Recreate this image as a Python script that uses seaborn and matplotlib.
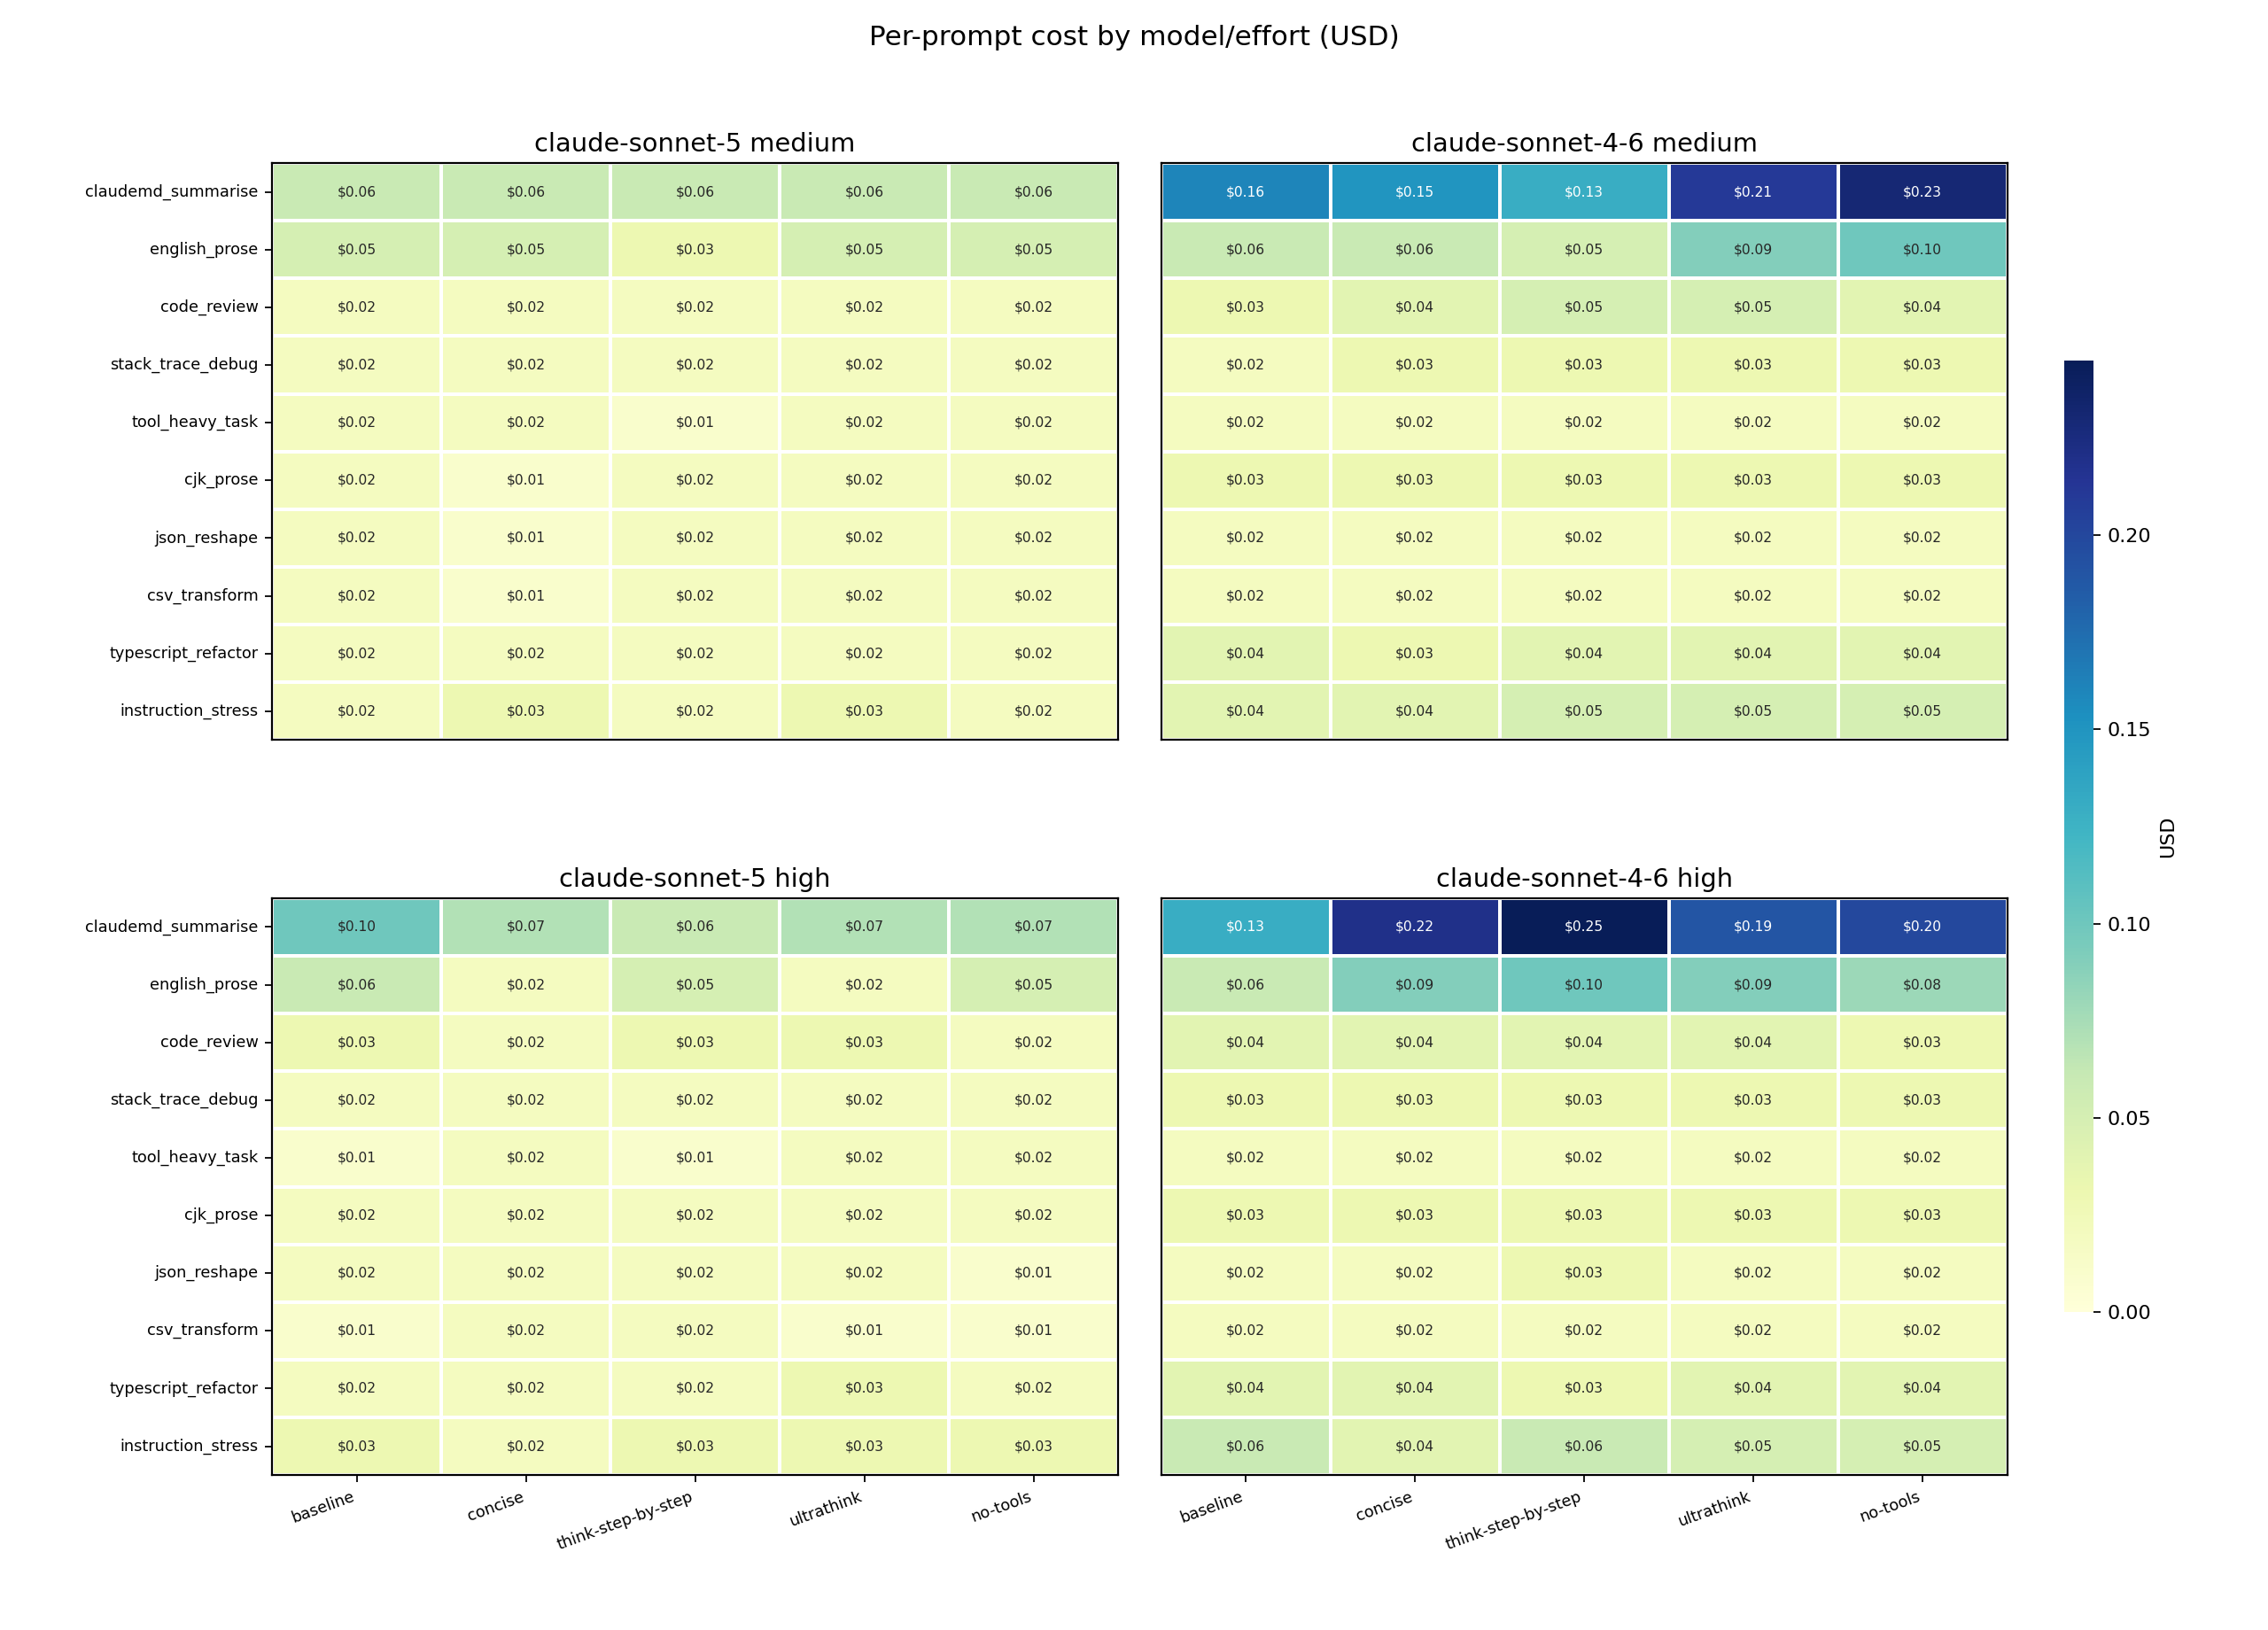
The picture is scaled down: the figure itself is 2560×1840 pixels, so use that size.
import numpy as np
import pandas as pd
import matplotlib
matplotlib.use("Agg")
import matplotlib.pyplot as plt
import seaborn as sns

prompts = ["claudemd_summarise", "english_prose", "code_review", "stack_trace_debug",
           "tool_heavy_task", "cjk_prose", "json_reshape", "csv_transform",
           "typescript_refactor", "instruction_stress"]
variants = ["baseline", "concise", "think-step-by-step", "ultrathink", "no-tools"]

sonnet5_medium = [
    [0.06, 0.06, 0.06, 0.06, 0.06],
    [0.05, 0.05, 0.03, 0.05, 0.05],
    [0.02, 0.02, 0.02, 0.02, 0.02],
    [0.02, 0.02, 0.02, 0.02, 0.02],
    [0.02, 0.02, 0.01, 0.02, 0.02],
    [0.02, 0.01, 0.02, 0.02, 0.02],
    [0.02, 0.01, 0.02, 0.02, 0.02],
    [0.02, 0.01, 0.02, 0.02, 0.02],
    [0.02, 0.02, 0.02, 0.02, 0.02],
    [0.02, 0.03, 0.02, 0.03, 0.02],
]
sonnet46_medium = [
    [0.16, 0.15, 0.13, 0.21, 0.23],
    [0.06, 0.06, 0.05, 0.09, 0.10],
    [0.03, 0.04, 0.05, 0.05, 0.04],
    [0.02, 0.03, 0.03, 0.03, 0.03],
    [0.02, 0.02, 0.02, 0.02, 0.02],
    [0.03, 0.03, 0.03, 0.03, 0.03],
    [0.02, 0.02, 0.02, 0.02, 0.02],
    [0.02, 0.02, 0.02, 0.02, 0.02],
    [0.04, 0.03, 0.04, 0.04, 0.04],
    [0.04, 0.04, 0.05, 0.05, 0.05],
]
sonnet5_high = [
    [0.10, 0.07, 0.06, 0.07, 0.07],
    [0.06, 0.02, 0.05, 0.02, 0.05],
    [0.03, 0.02, 0.03, 0.03, 0.02],
    [0.02, 0.02, 0.02, 0.02, 0.02],
    [0.01, 0.02, 0.01, 0.02, 0.02],
    [0.02, 0.02, 0.02, 0.02, 0.02],
    [0.02, 0.02, 0.02, 0.02, 0.01],
    [0.01, 0.02, 0.02, 0.01, 0.01],
    [0.02, 0.02, 0.02, 0.03, 0.02],
    [0.03, 0.02, 0.03, 0.03, 0.03],
]
sonnet46_high = [
    [0.13, 0.22, 0.25, 0.19, 0.20],
    [0.06, 0.09, 0.10, 0.09, 0.08],
    [0.04, 0.04, 0.04, 0.04, 0.03],
    [0.03, 0.03, 0.03, 0.03, 0.03],
    [0.02, 0.02, 0.02, 0.02, 0.02],
    [0.03, 0.03, 0.03, 0.03, 0.03],
    [0.02, 0.02, 0.03, 0.02, 0.02],
    [0.02, 0.02, 0.02, 0.02, 0.02],
    [0.04, 0.04, 0.03, 0.04, 0.04],
    [0.06, 0.04, 0.06, 0.05, 0.05],
]

panels = [
    ("claude-sonnet-5 medium", sonnet5_medium),
    ("claude-sonnet-4-6 medium", sonnet46_medium),
    ("claude-sonnet-5 high", sonnet5_high),
    ("claude-sonnet-4-6 high", sonnet46_high),
]
vmax = 0.245

fig = plt.figure(figsize=(16, 11.5), dpi=160)
boxes = [
    [0.12, 0.546, 0.373, 0.354],
    [0.512, 0.546, 0.373, 0.354],
    [0.12, 0.095, 0.373, 0.354],
    [0.512, 0.095, 0.373, 0.354],
]
cax = fig.add_axes([0.91, 0.195, 0.013, 0.584])

for i, (title, vals) in enumerate(panels):
    ax = fig.add_axes(boxes[i])
    df = pd.DataFrame(vals, index=prompts, columns=variants)
    labels = df.map(lambda v: f"\\${v:.2f}")
    sns.heatmap(df, ax=ax, cmap="YlGnBu", vmin=0, vmax=vmax,
                annot=labels, fmt="", annot_kws={"size": 7},
                linewidths=1, linecolor="white",
                cbar=(i == 0), cbar_ax=cax if i == 0 else None,
                cbar_kws={"label": "USD"})
    ax.set_title(title, fontsize=13)
    for s in ax.spines.values():
        s.set_visible(True)
        s.set_color("black")
        s.set_linewidth(1)
    if i % 2 == 0:
        ax.set_yticklabels(prompts, rotation=0, fontsize=8)
    else:
        ax.set_yticks([])
    if i >= 2:
        ax.set_xticklabels(variants, rotation=20, ha="right", fontsize=8)
    else:
        ax.set_xticks([])
    ax.set_xlabel("")
    ax.set_ylabel("")

cax.tick_params(labelsize=10)
fig.suptitle("Per-prompt cost by model/effort (USD)", fontsize=14, y=0.985)
fig.savefig("out.png", dpi=160)
